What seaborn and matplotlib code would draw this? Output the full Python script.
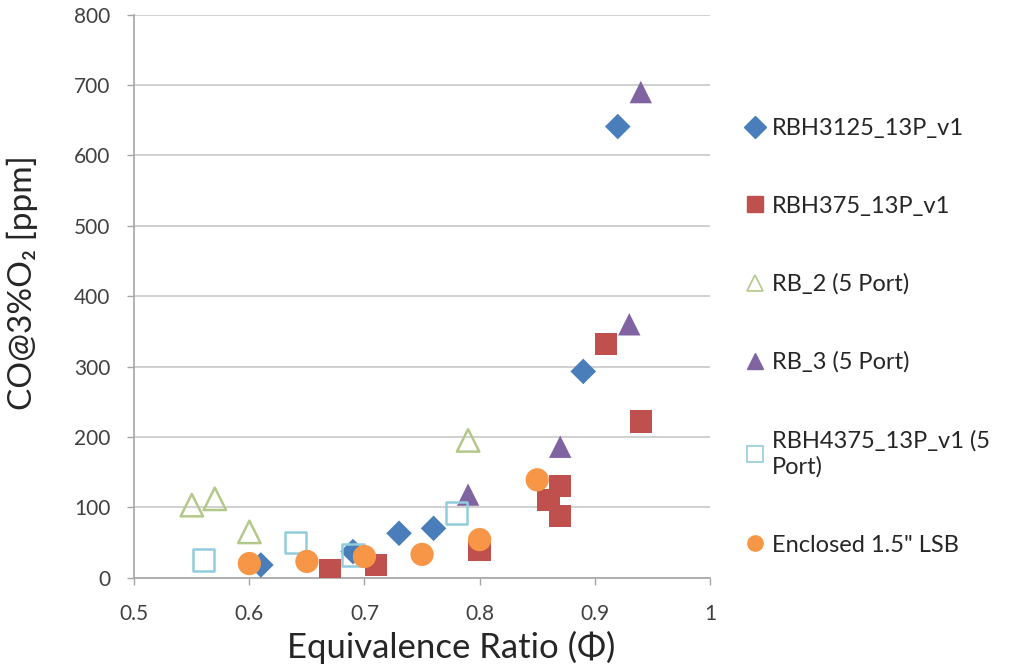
import seaborn as sns
import matplotlib.pyplot as plt
import pandas as pd
from matplotlib.lines import Line2D

# series data
rbh3125_phi = [0.61, 0.69, 0.73, 0.76, 0.89, 0.92]
rbh3125_co = [18, 37, 63, 70, 293, 641]

rbh375_phi = [0.67, 0.71, 0.80, 0.86, 0.87, 0.87, 0.91, 0.94]
rbh375_co = [10, 18, 40, 110, 130, 88, 332, 222]

rb2_phi = [0.55, 0.57, 0.60, 0.79]
rb2_co = [103, 112, 65, 195]

rb3_phi = [0.79, 0.87, 0.93, 0.94]
rb3_co = [118, 186, 360, 690]

rbh4375_phi = [0.56, 0.64, 0.69, 0.78]
rbh4375_co = [25, 50, 32, 92]

lsb_phi = [0.60, 0.65, 0.70, 0.75, 0.80, 0.85]
lsb_co = [20, 23, 30, 33, 54, 139]

series = [
    ("RBH3125_13P_v1", rbh3125_phi, rbh3125_co, "D", "#4A7EBB", True, 170),
    ("RBH375_13P_v1", rbh375_phi, rbh375_co, "s", "#C0504D", True, 260),
    ("RB_2 (5 Port)", rb2_phi, rb2_co, "^", "#B3C98A", False, 260),
    ("RB_3 (5 Port)", rb3_phi, rb3_co, "^", "#8064A2", True, 260),
    ("RBH4375_13P_v1 (5\nPort)", rbh4375_phi, rbh4375_co, "s", "#93CDDD", False, 240),
    ("Enclosed 1.5\" LSB", lsb_phi, lsb_co, "o", "#F79646", True, 280),
]

sns.set_theme(style="white")
plt.rcParams['font.family'] = ['Lato', 'DejaVu Sans']

fig = plt.figure(figsize=(10.17, 6.67), dpi=100)
ax = fig.add_axes([0.132, 0.134, 0.566, 0.844])

handles = []
for name, xs, ys, mk, col, filled, size in series:
    df = pd.DataFrame({"phi": xs, "co": ys})
    if filled:
        sns.scatterplot(data=df, x="phi", y="co", marker=mk, s=size,
                        color=col, edgecolor="none", ax=ax, zorder=3)
        h = Line2D([], [], ls="none", marker=mk, markersize=11,
                   markerfacecolor=col, markeredgecolor=col)
    else:
        sns.scatterplot(data=df, x="phi", y="co", marker=mk, s=size,
                        facecolor="none", edgecolor=col, linewidth=1.8,
                        ax=ax, zorder=3)
        h = Line2D([], [], ls="none", marker=mk, markersize=11,
                   markerfacecolor="none", markeredgecolor=col,
                   markeredgewidth=1.2)
    handles.append((h, name))

ax.set_xlim(0.5, 1.0)
ax.set_ylim(0, 800)
ax.set_xticks([0.5, 0.6, 0.7, 0.8, 0.9, 1.0])
ax.set_xticklabels(["0.5", "0.6", "0.7", "0.8", "0.9", "1"])
ax.set_yticks(range(0, 801, 100))
ax.yaxis.grid(True, color="#C8C8C8", linewidth=1.2)
ax.set_axisbelow(True)

for side in ["top", "right"]:
    ax.spines[side].set_visible(False)
for side in ["left", "bottom"]:
    ax.spines[side].set_color("#A6A6A6")
    ax.spines[side].set_linewidth(1.2)

ax.tick_params(axis="both", labelsize=15, colors="#A6A6A6",
               length=5, width=1, direction="out")
ax.tick_params(axis="both", labelcolor="#404040")
ax.tick_params(axis="x", bottom=True, pad=14)
ax.tick_params(axis="y", left=True, pad=12)

ax.set_xlabel("Equivalence Ratio (\u03a6)", fontsize=25, color="#262626")
ax.set_ylabel("CO@3%O\u2082 [ppm]", fontsize=24, color="#262626")
ax.xaxis.set_label_coords(0.55, -0.095, transform=ax.transAxes)
ax.yaxis.set_label_coords(-0.167, 0.524, transform=ax.transAxes)

leg = fig.legend([h for h, _ in handles], [n for _, n in handles],
                 loc="upper left", bbox_to_anchor=(0.71, 0.855),
                 frameon=False, fontsize=17, labelspacing=2.4,
                 handletextpad=0.2, handlelength=1.0)
for t in leg.get_texts():
    t.set_color("#262626")
    t.set_linespacing(1.3)

fig.savefig("out.png", dpi=100)
